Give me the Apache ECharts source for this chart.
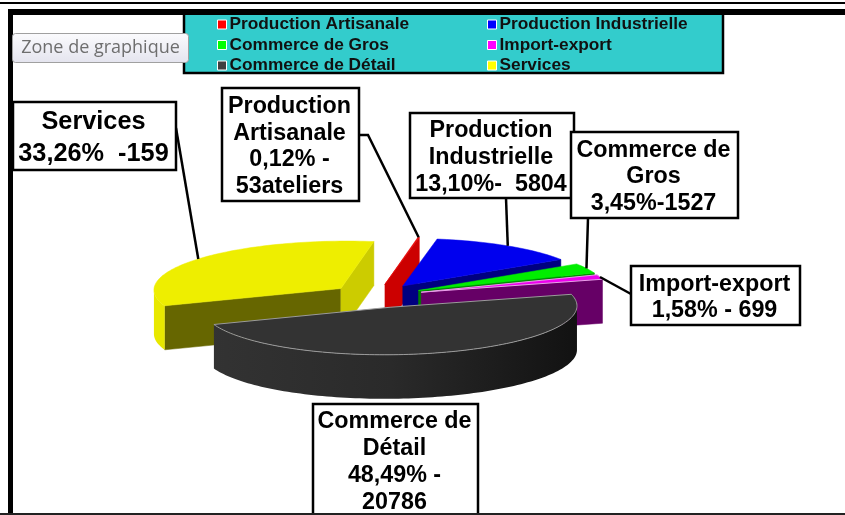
<!DOCTYPE html>
<html>
<head>
<meta charset="utf-8">
<style>html,body{margin:0;padding:0;background:#fff}#c{width:845px;height:515px}</style>
<script src="https://cdn.jsdelivr.net/npm/echarts@6/dist/echarts.min.js"></script>
</head>
<body>
<div id="c"></div>
<script>
// Data
const categories = ['Production Artisanale','Production Industrielle','Commerce de Gros','Import-export','Commerce de Détail','Services'];
const shares = [0.12, 13.10, 3.45, 1.58, 48.49, 33.26];
const labelTexts = [
  'Production\nArtisanale\n0,12% -\n53ateliers',
  'Production\nIndustrielle\n13,10%-  5804',
  'Commerce de\nGros\n3,45%-1527',
  'Import-export\n1,58% - 699',
  'Commerce de\nDétail\n48,49% -\n20786',
  'Services\n33,26%  -159'
];
// Styles (index matches categories)
const topColors  = ['#E60000','#0000EE','#00EE00','#EE00EE','#333333','#EEEE00'];
const legendCols = ['#FF0000','#0000FF','#00FF00','#FF00FF','#404040','#FFFF00'];
const endFaces   = ['#CC0000','#000080','#008000','#660066','#2a2a2a','#CCCC00'];
const startFaces = ['#CC0000','#000080','#008000','#660066','#2a2a2a','#666600'];
const rimColors  = ['#CC0000','#000080','#008000','#660066',null,'#E8E800'];
const topStroke  = [null,null,null,'#e9a0e9','#9a9a9a',null];
const drawOrder  = [5,0,1,2,3,4];
// Label layout: box x,y,w,h, font size, line pitch, leader start
const labelBoxes = [
  {x:222,y:88,w:137,h:113,fs:23.3,lh:26.8,from:[[359,135],[368,135]]},
  {x:410,y:113,w:164,h:85,fs:23.3,lh:26.8,from:[[506,198]]},
  {x:571,y:132,w:167,h:86,fs:23.3,lh:26.8,from:[[588,218]]},
  {x:631,y:266,w:169,h:59,fs:23.3,lh:26.8,from:[[631,294]]},
  {x:313,y:404,w:165,h:116,fs:23.3,lh:26.8,from:null},
  {x:13,y:102,w:163,h:68,fs:25.3,lh:32,from:[[176,128]]}
];
// Pie projection
const axisA = [33,-47], axisB = [184,7], pieCentre = [376.5,296], explode = 0.25, depth = 44;
const rim = t => { const r = t*Math.PI/180, c = Math.cos(r), s = Math.sin(r);
  return [axisA[0]*c+axisB[0]*s, axisA[1]*c+axisB[1]*s]; };
const total = shares.reduce((a,b)=>a+b,0);
const starts = []; shares.reduce((acc,v,i)=>{starts[i]=acc; return acc+v/total*360;},0);

function poly(points, fill, stroke){
  return {type:'polygon', shape:{points}, style:{fill, stroke:stroke||fill, lineWidth:stroke?1:0.5}};
}
function renderSlice(idx){
  return function(params, api){
    const share = api.value(0);
    const t0 = starts[idx], t1 = t0 + share/total*360, mid = (t0+t1)/2;
    const m = rim(mid);
    const apex = [pieCentre[0]+explode*m[0], pieCentre[1]+explode*m[1]];
    const arc = [];
    const n = Math.max(2, Math.ceil((t1-t0)/1.5));
    for(let i=0;i<=n;i++){ const p = rim(t0+(t1-t0)*i/n); arc.push([apex[0]+p[0],apex[1]+p[1]]); }
    const down = p => [p[0],p[1]+depth];
    const kids = [];
    // Radial cut faces, shown only when they face the viewer
    const a0 = arc[0], a1 = arc[arc.length-1];
    if(a0[0]<apex[0]) kids.push(poly([apex,a0,down(a0),down(apex)], startFaces[idx]));
    if(a1[0]>apex[0]) kids.push(poly([a1,apex,down(apex),down(a1)], endFaces[idx]));
    // Outer wall
    const wall = [];
    for(let i=0;i<arc.length-1;i++){ if(arc[i+1][0]<arc[i][0]) wall.push(arc[i],arc[i+1]); }
    if(wall.length){
      const pts = wall.filter((p,i)=>i%2===0||i===wall.length-1);
      const outline = pts.concat(pts.slice().reverse().map(down));
      const fill = rimColors[idx] || {type:'linear',x:pieCentre[0]-170,y:0,x2:pieCentre[0]+200,y2:0,global:true,
        colorStops:[{offset:0,color:'#333333'},{offset:0.5,color:'#2a2a2a'},{offset:1,color:'#121212'}]};
      kids.push({type:'polygon',shape:{points:outline},style:{fill,stroke:'none'}});
    }
    // Top
    kids.push(poly([apex].concat(arc), topColors[idx], topStroke[idx]));
    // Leader line
    const box = labelBoxes[idx];
    const tip = [pieCentre[0]+(1+explode)*m[0], pieCentre[1]+(1+explode)*m[1]];
    if(box.from){
      kids.push({type:'polyline',shape:{points:box.from.concat([tip])},style:{fill:'none',stroke:'#000',lineWidth:2.5}});
    }
    // Label box and text
    kids.push({type:'rect',shape:{x:box.x,y:box.y,width:box.w,height:box.h},style:{fill:'#fff',stroke:'#000',lineWidth:2.5}});
    const lines = labelTexts[idx].split('\n');
    const firstY = box.y + 2 + (idx===4 ? 16 : (box.h-box.lh*(lines.length-1))/2);
    lines.forEach((line,i)=>{
      kids.push({type:'text',style:{text:line,x:box.x+box.w/2-1,y:firstY+i*box.lh,
        font:'bold '+box.fs+'px "Liberation Sans", Arial, sans-serif',fill:'#000',align:'center',verticalAlign:'middle'}});
    });
    return {type:'group',children:kids};
  };
}

const series = drawOrder.map((idx,order)=>({
  type:'custom', name:categories[idx], coordinateSystem:'none', z:2+order, silent:true,
  itemStyle:{color:legendCols[idx]}, data:[[shares[idx]]], renderItem:renderSlice(idx), animation:false
}));
const legendBase = {orient:'vertical',selectedMode:false,icon:'rect',itemWidth:9,itemHeight:9,itemGap:3.5,padding:0,
  itemStyle:{borderColor:'#fff',borderWidth:1},
  textStyle:{fontFamily:'"Liberation Sans", Arial, sans-serif',fontWeight:'bold',fontSize:17.3,color:'#111',padding:[0,0,0,-2]}};

const chart = echarts.init(document.getElementById('c'),null,{renderer:'canvas'});
chart.setOption({
  animation:false, backgroundColor:'#fff', series,
  legend:[
    Object.assign({},legendBase,{left:217,top:16,data:[categories[0],categories[2],categories[4]]}),
    Object.assign({},legendBase,{left:487,top:16,data:[categories[1],categories[3],categories[5]]})
  ],
  graphic:[
    {type:'rect',z:0,shape:{x:184,y:12,width:539,height:61},style:{fill:'#33CCCC',stroke:'#000',lineWidth:2.5}},
    {type:'rect',z:50,shape:{x:0,y:2,width:845,height:2},style:{fill:'#000'}},
    {type:'rect',z:50,shape:{x:8,y:9,width:837,height:6},style:{fill:'#000'}},
    {type:'rect',z:50,shape:{x:8,y:9,width:5,height:506},style:{fill:'#000'}},
    {type:'rect',z:50,shape:{x:0,y:513,width:845,height:2},style:{fill:'#222'}},
    {type:'rect',z:100,shape:{x:12.5,y:33.5,width:176,height:29,r:3},
      style:{fill:{type:'linear',x:0,y:0,x2:0,y2:1,colorStops:[{offset:0,color:'#fbfbfd'},{offset:1,color:'#e4e4ee'}]},stroke:'#a0a0a0',lineWidth:1}},
    {type:'text',z:101,style:{text:'Zone de graphique',x:100.5,y:48,font:'18px "Open Sans", sans-serif',fill:'#6e6e6e',align:'center',verticalAlign:'middle'}}
  ]
});
</script>
</body>
</html>
